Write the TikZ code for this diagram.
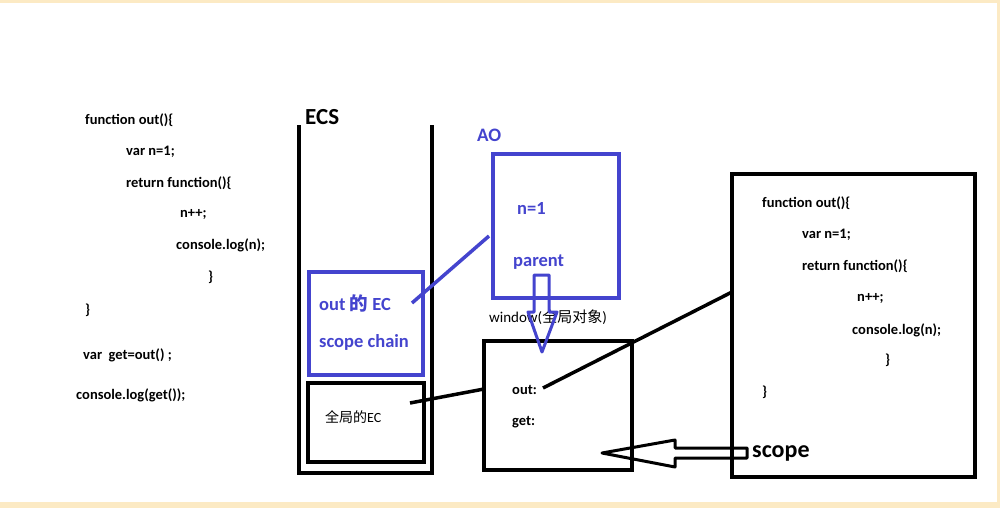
\documentclass[tikz,border=0pt]{standalone}
\usepackage{fontspec}
\setmainfont{Carlito}
\newfontfamily\cjk{Noto Sans CJK SC}
\usetikzlibrary{positioning}
\definecolor{cream}{RGB}{252,234,196}
\definecolor{aoblue}{RGB}{68,68,206}
\begin{document}
\begin{tikzpicture}[
        x=1pt, y=-1pt,
        every node/.style={inner sep=0pt, anchor=west},
        code/.style={font=\fontsize{14.5}{16}\selectfont\bfseries},
        bluetxt/.style={text=aoblue, font=\fontsize{18.5}{20}\selectfont\bfseries},
        thin txt/.style={font=\fontsize{14}{16}\selectfont},
        box/.style={draw, line width=3.5pt},
        bluebox/.style={draw=aoblue, line width=3.5pt},
        link/.style={line width=3.5pt},
        hollow/.style={line width=3pt, line join=round}
    ]
    % page
    \fill[cream] (0,0) rectangle (1000,508);
    \fill[white] (0,3) rectangle (997,502);
    \useasboundingbox (0,0) rectangle (1000,508);

    % code on the left
    \node[code] (l1) at (85,120) {function out()\{};
    \node[code] (l2) at (126,152) {var n=1;};
    \node[code] (l3) at (126,183) {return function()\{};
    \node[code] (l4) at (180,214) {n++;};
    \node[code] (l5) at (176,245) {console.log(n);};
    \node[code] (l6) at (208,277) {\}};
    \node[code] (l7) at (85,310) {\}};
    \node[code] (l8) at (83,355) {var\ \ get=out() ;};
    \node[code] (l9) at (76,395) {console.log(get());};

    % execution context stack
    \node[font=\fontsize{23}{25}\selectfont\bfseries] (ecs) at (305,117) {ECS};
    \draw[line width=3.5pt] (299,125) -- (299,473) -- (432,473) -- (432,125);
    \draw[bluebox] (309,272) rectangle (423,375);
    \node[bluetxt] (outec) at (319,303) {out {\cjk 的} EC};
    \node[bluetxt] (chain) at (319,342) {scope chain};
    \draw[box] (308,383) rectangle (424,462);
    \node[thin txt] (glec) at (325,417) {{\cjk 全局的}EC};

    % activation object
    \node[bluetxt, font=\fontsize{19}{21}\selectfont\bfseries] (ao) at (477,135) {AO};
    \draw[bluebox] (493,154) rectangle (619,298);
    \node[bluetxt] (n1) at (517,208) {n=1};
    \node[bluetxt] (parent) at (513,262) {parent};
    \coordinate (aoleft) at (489,236);
    \coordinate (outecend) at (412,303);
    \draw[link, draw=aoblue] (aoleft) -- (outecend);

    % window object
    \node[font=\fontsize{15}{17}\selectfont] (win) at (489,317) {window({\cjk 全局对象})};
    \draw[box] (484,341) rectangle (632,470);
    \node[code] (outkey) at (512,390) {out:};
    \node[code] (getkey) at (512,422) {get:};
    \coordinate (glecend) at (410,403);
    \coordinate (winleft) at (484,389);
    \draw[link] (glecend) -- (winleft);

    % parent -> window
    \coordinate (pa) at (541.5,275);
    \draw[hollow, draw=aoblue] (pa) ++(-7.5,0) -- ++(0,37) -- ++(-6,0) -- (542,352)
        -- (557,312) -- ++(-8,0) -- ++(0,-37) -- cycle;

    % function code box
    \draw[box] (732,174) rectangle (975,477);
    \node[code] (r1) at (762,203) {function out()\{};
    \node[code] (r2) at (802,235) {var n=1;};
    \node[code] (r3) at (802,266) {return function()\{};
    \node[code] (r4) at (857,298) {n++;};
    \node[code] (r5) at (852,330) {console.log(n);};
    \node[code] (r6) at (885,360) {\}};
    \node[code] (r7) at (762,392) {\}};
    \coordinate (outend) at (543,388);
    \coordinate (fnleft) at (732,292);
    \draw[link] (outend) -- (fnleft);
    \node[font=\fontsize{24}{26}\selectfont\bfseries, fill=white, inner sep=1pt] (scope) at (751,453) {scope};

    % scope -> get
    \coordinate (sc) at (747,453);
    \draw[hollow] (sc) ++(0,-5) -- (675,448) -- (675,440) -- (602,453)
        -- (675,467) -- (675,458) -- (747,458) -- cycle;
\end{tikzpicture}
\end{document}
